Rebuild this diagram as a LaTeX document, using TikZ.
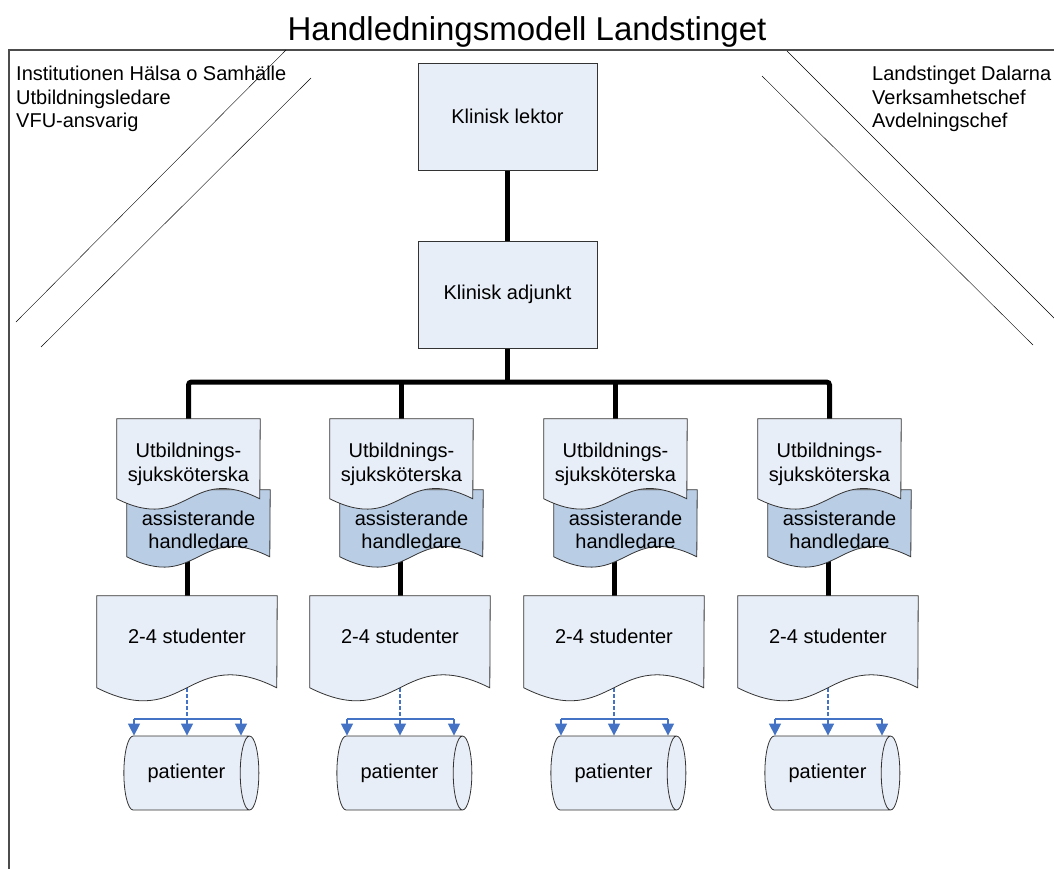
\documentclass[tikz,border=0pt]{standalone}
\usepackage{fontspec}
\setmainfont{Liberation Sans}
\usetikzlibrary{shapes.geometric,arrows.meta,backgrounds,calc}
\definecolor{boxfill}{RGB}{232,238,247}
\definecolor{docdark}{RGB}{185,205,229}
\definecolor{flowblue}{RGB}{68,114,196}
% document shape with a wavy bottom: style, node, width, height of straight sides
\newcommand{\docshape}[4]{\filldraw[#1] (#2.north west) -- ++(0,#4) .. controls +(#3/2,#3/4) and +(-#3/2,-#3/4) .. ++(#3,0) -- (#2.north east) -- cycle;}

\begin{document}
\begin{tikzpicture}[x=1pt,y=-1pt,
  font=\fontsize{20}{23.5}\selectfont,
  box/.style={draw=black!80,fill=boxfill,line width=.8pt,minimum width=179pt,minimum height=107pt},
  doc/.style={align=center,inner sep=2pt},
  utb/.style={doc,minimum width=143pt,minimum height=91pt},
  ass/.style={doc,minimum width=143pt,minimum height=80pt},
  stud/.style={doc,minimum width=180pt,minimum height=80pt},
  drum/.style={shape=cylinder,draw=black!80,fill=boxfill,line width=.8pt,aspect=1,minimum width=74pt,minimum height=135pt,inner sep=0pt},
  link/.style={line width=5pt},
  flow/.style={draw=flowblue,line width=1.5pt},
  pointer/.style={flow,-{Triangle[width=12pt,length=12pt]}}]
\useasboundingbox (0,0) rectangle (1054,868);
\clip (0,0) rectangle (1054,868);
\node (title) at (527,32) {\fontsize{33}{40}\selectfont Handledningsmodell Landstinget};
\draw[black!70,line width=1.5pt] (9,50) rectangle (1100,950);
\draw (286,50) -- (16,322);
\draw (311,78) -- (41,347);
\draw (787,51) -- (1080,344);
\draw (762,76) -- (1033,345);
\node[anchor=north west,align=left,inner sep=0pt] (inst) at (16,66) {Institutionen Hälsa o Samhälle\\Utbildningsledare\\VFU-ansvarig};
\node[anchor=north west,align=left,inner sep=0pt] (lt) at (872,66) {Landstinget Dalarna\\Verksamhetschef\\Avdelningschef};

\node[box] (lek) at (507.5,116.5) {Klinisk lektor};
\node[box] (adj) at (507.5,294.5) {Klinisk adjunkt};
\coordinate (bus) at (507.5,382);

% kolumn 1
\node[utb] (u1) at (188.5,464.5) {Utbildnings-\\sjuksköterska};
\node[ass] (a1) at (198.5,530) {assisterande\\handledare};
\node[stud] (s1) at (187,636) {2-4 studenter};
\node[drum] (p1) at (186.5,773) {patienter};
\coordinate (m1) at (187,719);
\coordinate (l1) at (134,719);
\coordinate (r1) at (241,719);
% kolumn 2
\node[utb] (u2) at (401.5,464.5) {Utbildnings-\\sjuksköterska};
\node[ass] (a2) at (411.5,530) {assisterande\\handledare};
\node[stud] (s2) at (400,636) {2-4 studenter};
\node[drum] (p2) at (399.5,773) {patienter};
\coordinate (m2) at (400,719);
\coordinate (l2) at (347,719);
\coordinate (r2) at (454,719);
% kolumn 3
\node[utb] (u3) at (615.5,464.5) {Utbildnings-\\sjuksköterska};
\node[ass] (a3) at (625.5,530) {assisterande\\handledare};
\node[stud] (s3) at (614,636) {2-4 studenter};
\node[drum] (p3) at (613.5,773) {patienter};
\coordinate (m3) at (614,719);
\coordinate (l3) at (561,719);
\coordinate (r3) at (668,719);
% kolumn 4
\node[utb] (u4) at (829.5,464.5) {Utbildnings-\\sjuksköterska};
\node[ass] (a4) at (839.5,530) {assisterande\\handledare};
\node[stud] (s4) at (828,636) {2-4 studenter};
\node[drum] (p4) at (827.5,773) {patienter};
\coordinate (m4) at (828,719);
\coordinate (l4) at (775,719);
\coordinate (r4) at (882,719);

\begin{pgfonlayer}{background}
\draw[link] (lek) -- (adj);
\draw[link] (adj) -- (bus);
\draw[link,rounded corners=3pt] (u1.north) |- (bus) -| (u4.north);
\draw[link] (u2.north) -- (u2.north |- bus);
\draw[link] (u3.north) -- (u3.north |- bus);
\draw[link] (u1.south -| s1.north) -- (s1.north);
\draw[link] (u2.south -| s2.north) -- (s2.north);
\draw[link] (u3.south -| s3.north) -- (s3.north);
\draw[link] (u4.south -| s4.north) -- (s4.north);
\draw[flow,line width=2pt,dash pattern=on 4pt off 2pt] (s1) -- (m1);
\draw[flow,line width=2pt,dash pattern=on 4pt off 2pt] (s2) -- (m2);
\draw[flow,line width=2pt,dash pattern=on 4pt off 2pt] (s3) -- (m3);
\draw[flow,line width=2pt,dash pattern=on 4pt off 2pt] (s4) -- (m4);
\docshape{fill=docdark,draw=black!80,line width=.8pt}{a1}{143}{67}
\docshape{fill=boxfill,draw=black!80,line width=.8pt}{u1}{143}{80}
\docshape{fill=boxfill,draw=black!80,line width=.8pt}{s1}{180}{92}
\docshape{fill=docdark,draw=black!80,line width=.8pt}{a2}{143}{67}
\docshape{fill=boxfill,draw=black!80,line width=.8pt}{u2}{143}{80}
\docshape{fill=boxfill,draw=black!80,line width=.8pt}{s2}{180}{92}
\docshape{fill=docdark,draw=black!80,line width=.8pt}{a3}{143}{67}
\docshape{fill=boxfill,draw=black!80,line width=.8pt}{u3}{143}{80}
\docshape{fill=boxfill,draw=black!80,line width=.8pt}{s3}{180}{92}
\docshape{fill=docdark,draw=black!80,line width=.8pt}{a4}{143}{67}
\docshape{fill=boxfill,draw=black!80,line width=.8pt}{u4}{143}{80}
\docshape{fill=boxfill,draw=black!80,line width=.8pt}{s4}{180}{92}
\end{pgfonlayer}

\draw[flow] (l1) -- (r1);
\draw[pointer] (l1) -- (l1 |- p1.north);
\draw[pointer] (m1) -- (m1 |- p1.north);
\draw[pointer] (r1) -- (r1 |- p1.north);
\draw[flow] (l2) -- (r2);
\draw[pointer] (l2) -- (l2 |- p2.north);
\draw[pointer] (m2) -- (m2 |- p2.north);
\draw[pointer] (r2) -- (r2 |- p2.north);
\draw[flow] (l3) -- (r3);
\draw[pointer] (l3) -- (l3 |- p3.north);
\draw[pointer] (m3) -- (m3 |- p3.north);
\draw[pointer] (r3) -- (r3 |- p3.north);
\draw[flow] (l4) -- (r4);
\draw[pointer] (l4) -- (l4 |- p4.north);
\draw[pointer] (m4) -- (m4 |- p4.north);
\draw[pointer] (r4) -- (r4 |- p4.north);
\end{tikzpicture}
\end{document}
